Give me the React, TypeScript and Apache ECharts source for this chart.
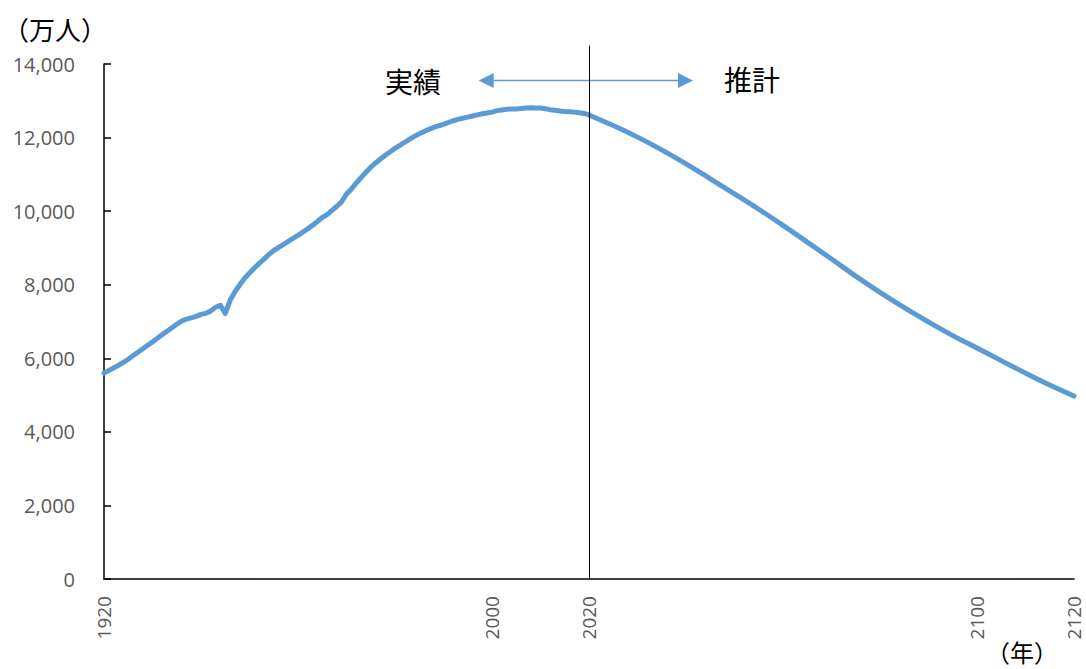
import React, { useEffect, useRef } from "react";
import * as echarts from "echarts";

// Total population of Japan (10,000 persons): estimates to 2020, projection after.
const actualYears: number[] = [
  1920, 1921, 1922, 1923, 1924, 1925, 1926, 1927, 1928, 1929,
  1930, 1931, 1932, 1933, 1934, 1935, 1936, 1937, 1938, 1939,
  1940, 1941, 1942, 1943, 1944, 1945, 1946, 1947, 1948, 1949,
  1950, 1951, 1952, 1953, 1954, 1955, 1956, 1957, 1958, 1959,
  1960, 1961, 1962, 1963, 1964, 1965, 1966, 1967, 1968, 1969,
  1970, 1971, 1972, 1973, 1974, 1975, 1976, 1977, 1978, 1979,
  1980, 1981, 1982, 1983, 1984, 1985, 1986, 1987, 1988, 1989,
  1990, 1991, 1992, 1993, 1994, 1995, 1996, 1997, 1998, 1999,
  2000, 2001, 2002, 2003, 2004, 2005, 2006, 2007, 2008, 2009,
  2010, 2011, 2012, 2013, 2014, 2015, 2016, 2017, 2018, 2019,
  2020,
];
const actualPopulation: number[] = [
  5596, 5666, 5739, 5812, 5888, 5974, 6074, 6166, 6261, 6353,
  6445, 6543, 6643, 6735, 6831, 6925, 7011, 7063, 7101, 7138,
  7193, 7222, 7288, 7388, 7443, 7215, 7575, 7810, 8000, 8177,
  8320, 8454, 8581, 8698, 8824, 8928, 9017, 9093, 9177, 9264,
  9342, 9429, 9518, 9616, 9718, 9828, 9904, 10020, 10133, 10254,
  10467, 10598, 10760, 10910, 11057, 11194, 11309, 11417, 11519, 11616,
  11706, 11790, 11873, 11954, 12031, 12105, 12166, 12224, 12275, 12321,
  12361, 12410, 12457, 12494, 12527, 12557, 12586, 12616, 12647, 12667,
  12693, 12732, 12749, 12769, 12779, 12777, 12790, 12803, 12808, 12803,
  12806, 12783, 12759, 12741, 12724, 12709, 12704, 12692, 12675, 12656,
  12615,
];
const projectedYears: number[] = [
  2020, 2025, 2030, 2035, 2040, 2045, 2050, 2055, 2060, 2065, 2070,
  2075, 2080, 2085, 2090, 2095, 2100, 2105, 2110, 2115, 2120,
];
const projectedPopulation: number[] = [
  12615, 12326, 12012, 11664, 11284, 10880, 10469, 10051, 9615, 9159, 8700,
  8233, 7791, 7375, 6986, 6617, 6278, 5937, 5597, 5273, 4973,
];

const xTickLabels: number[] = [1920, 2000, 2020, 2100, 2120];
const boundaryYear = 2020;
const boundaryTop = 14500;
const arrowSpan: number[] = [1998.8, 2039.9];
const arrowLevel = 13550;

const labelFont = "'Open Sans', 'Noto Sans', sans-serif";
const cjkFont = "'Noto Sans CJK JP', sans-serif";
const lineBlue = "#5B9BD5";

export default function App() {
  const ref = useRef<HTMLDivElement>(null);

  useEffect(() => {
    if (!ref.current) return;
    const chart = echarts.init(ref.current, undefined, { renderer: "svg" });

    const actualPoints = actualYears.map((y, i) => [y, actualPopulation[i]]);
    const projectedPoints = projectedYears.map((y, i) => [y, projectedPopulation[i]]);

    chart.setOption({
      animation: false,
      backgroundColor: "#ffffff",
      grid: { left: 104, right: 12, top: 64, bottom: 90, containLabel: false },
      xAxis: {
        type: "value",
        min: 1920,
        max: 2120,
        splitLine: { show: false },
        axisLine: { lineStyle: { color: "#000000", width: 1.5 } },
        axisTick: { show: false },
        axisLabel: {
          customValues: xTickLabels,
          rotate: 90,
          margin: 17,
          color: "#595959",
          fontSize: 19,
          lineHeight: 16,
          fontFamily: labelFont,
          formatter: (v: number) => String(v),
        },
      },
      yAxis: {
        type: "value",
        min: 0,
        max: 14000,
        interval: 2000,
        splitLine: { show: false },
        axisLine: { show: true, lineStyle: { color: "#000000", width: 1.5 } },
        axisTick: { show: true, inside: true, length: 7, lineStyle: { color: "#000000", width: 1.5 } },
        axisLabel: {
          margin: 29,
          color: "#595959",
          fontSize: 20,
          fontFamily: labelFont,
          formatter: (v: number) => v.toLocaleString("en-US"),
        },
      },
      series: [
        {
          name: "実績",
          type: "line",
          data: actualPoints,
          showSymbol: false,
          smooth: false,
          lineStyle: { color: lineBlue, width: 5, join: "round", cap: "round" },
          markLine: {
            silent: true,
            animation: false,
            label: { show: false },
            symbol: ["triangle", "triangle"],
            symbolSize: [15, 15],
            lineStyle: { color: lineBlue, width: 1.3, type: "solid" },
            data: [
              [
                { coord: [arrowSpan[0], arrowLevel], symbolRotate: 90 },
                { coord: [arrowSpan[1], arrowLevel], symbolRotate: -90 },
              ],
            ],
          },
        },
        {
          name: "推計",
          type: "line",
          data: projectedPoints,
          showSymbol: false,
          smooth: 0.4,
          lineStyle: { color: lineBlue, width: 5, join: "round", cap: "round" },
        },
      ],
      graphic: [
        {
          type: "text",
          x: 3,
          y: 28,
          style: { text: "（万人）", font: `26px ${cjkFont}`, fill: "#000000", verticalAlign: "middle" },
        },
        {
          type: "text",
          x: 986,
          y: 651,
          style: { text: "（年）", font: `24px ${cjkFont}`, lineHeight: 24, fill: "#000000", verticalAlign: "middle" },
        },
        {
          type: "text",
          x: 413,
          y: 81,
          style: { text: "実績", font: `28px ${cjkFont}`, fill: "#000000", align: "center", verticalAlign: "middle" },
        },
        {
          type: "text",
          x: 752,
          y: 79,
          style: { text: "推計", font: `28px ${cjkFont}`, fill: "#000000", align: "center", verticalAlign: "middle" },
        },
      ],
    });

    // Divider between estimates and projection, extending a little above the plot.
    const bottom = chart.convertToPixel({ xAxisIndex: 0, yAxisIndex: 0 }, [boundaryYear, 0]) as number[];
    const top = chart.convertToPixel({ xAxisIndex: 0, yAxisIndex: 0 }, [boundaryYear, boundaryTop]) as number[];
    chart.setOption({
      graphic: [
        {
          type: "line",
          id: "divider",
          z: 10,
          shape: { x1: Math.round(bottom[0]) + 0.5, y1: bottom[1], x2: Math.round(top[0]) + 0.5, y2: top[1] },
          style: { stroke: "#000000", lineWidth: 1 },
        },
      ],
    });

    return () => chart.dispose();
  }, []);

  return (
    <div
      ref={ref}
      style={{ position: "fixed", left: 0, top: 0, width: 1086, height: 669, background: "#ffffff" }}
    />
  );
}
